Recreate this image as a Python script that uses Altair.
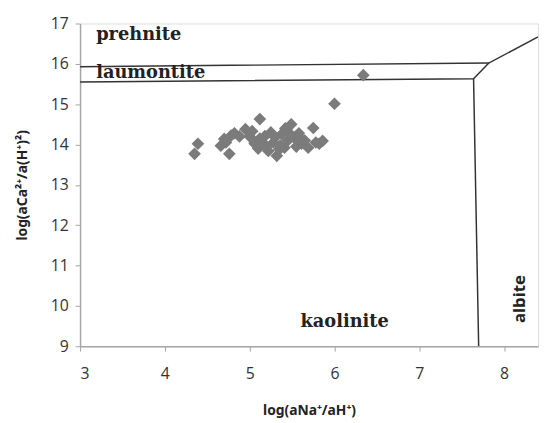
import altair as alt
import pandas as pd

# Sample points (log aNa+/aH+, log aCa2+/a(H+)^2)
pts_x = [4.39, 4.35, 4.70, 4.66, 4.76, 4.82, 4.95, 5.03, 5.06, 4.88, 5.00,
         5.12, 5.06, 5.22, 5.41, 5.61, 5.69, 5.18, 5.38, 5.53, 5.49, 5.75,
         5.86, 5.32, 5.28, 5.45, 5.35, 5.60, 5.78, 5.15, 5.25, 5.42, 5.55,
         5.10, 4.72, 4.78, 5.20, 5.30, 5.47, 5.65, 5.82, 5.12, 5.36, 5.58,
         6.00, 6.34]
pts_y = [14.02, 13.77, 14.14, 13.97, 13.77, 14.28, 14.38, 14.33, 14.04, 14.20, 14.20,
         14.63, 14.02, 13.84, 13.92, 14.02, 13.92, 14.21, 14.26, 14.16, 14.50, 14.41,
         14.09, 13.72, 14.05, 14.10, 13.88, 14.15, 14.05, 14.05, 14.30, 14.40, 13.95,
         13.90, 14.05, 14.22, 13.95, 14.18, 14.28, 14.10, 14.02, 14.15, 13.98, 14.28,
         15.01, 15.72]

# Phase boundary segments
seg_id = ["upper", "upper", "upper", "lower", "lower", "lower", "vert", "vert"]
seg_x = [3.0, 7.82, 8.40, 3.0, 7.64, 7.82, 7.64, 7.70]
seg_y = [15.93, 16.02, 16.67, 15.55, 15.63, 16.02, 15.63, 9.0]
seg_ord = [0, 1, 2, 0, 1, 2, 0, 1]

# Field labels
serif_text = ["prehnite", "laumontite", "kaolinite"]
serif_x = [3.19, 3.19, 6.12]
serif_y = [16.71, 15.78, 9.61]

albite_text = ["albite"]
albite_x = [8.19]
albite_y = [10.17]

x_ticks = [3, 4, 5, 6, 7, 8]
y_ticks = [9, 10, 11, 12, 13, 14, 15, 16, 17]

pts = pd.DataFrame({"x": pts_x, "y": pts_y})
segs = pd.DataFrame({"seg": seg_id, "x": seg_x, "y": seg_y, "ord": seg_ord})
serif_left = pd.DataFrame({"t": serif_text[:2], "x": serif_x[:2], "y": serif_y[:2]})
serif_center = pd.DataFrame({"t": serif_text[2:], "x": serif_x[2:], "y": serif_y[2:]})
alb = pd.DataFrame({"t": albite_text, "x": albite_x, "y": albite_y})

xs = alt.Scale(domain=[3, 8.4], nice=False, zero=False)
ys = alt.Scale(domain=[9, 17], nice=False, zero=False)

xaxis = alt.Axis(values=x_ticks, format="d", title="log(aNa\u207A/aH\u207A)", grid=False,
                 domainColor="#a6a6a6", domainWidth=1.5, tickColor="#a6a6a6",
                 tickSize=5, tickWidth=1, labelFont="Open Sans", labelFontSize=16,
                 labelColor="#333333", labelPadding=15,
                 titleFont="Noto Sans", titleFontSize=14, titleFontWeight="bold",
                 titleColor="#222222", titleY=65, titleBaseline="middle")
yaxis = alt.Axis(values=y_ticks, format="d", title="log(aCa\u00B2\u207A/a(H\u207A)\u00B2)", grid=False,
                 domainColor="#a6a6a6", domainWidth=1.5, tickColor="#a6a6a6",
                 tickSize=5, tickWidth=1, labelFont="Open Sans", labelFontSize=16,
                 labelColor="#333333", labelPadding=7,
                 titleFont="Noto Sans", titleFontSize=14, titleFontWeight="bold",
                 titleColor="#222222", titleX=-58, titleAngle=270,
                 titleBaseline="middle", titleAlign="center")

lines = alt.Chart(segs).mark_line(color="#333333", strokeWidth=1.5, clip=True).encode(
    x=alt.X("x:Q", scale=xs, axis=xaxis),
    y=alt.Y("y:Q", scale=ys, axis=yaxis),
    detail="seg:N",
    order="ord:Q",
)

points = alt.Chart(pts).mark_point(shape="diamond", filled=True, size=165,
                                   color="#7b7b7b", opacity=1).encode(
    x=alt.X("x:Q", scale=xs),
    y=alt.Y("y:Q", scale=ys),
)

t1 = alt.Chart(serif_left).mark_text(font="DejaVu Serif", fontWeight="bold", fontSize=18,
                                     align="left", baseline="middle", color="#222222").encode(
    x=alt.X("x:Q", scale=xs), y=alt.Y("y:Q", scale=ys), text="t:N")
t2 = alt.Chart(serif_center).mark_text(font="DejaVu Serif", fontWeight="bold", fontSize=18,
                                       align="center", baseline="middle", color="#222222").encode(
    x=alt.X("x:Q", scale=xs), y=alt.Y("y:Q", scale=ys), text="t:N")
t3 = alt.Chart(alb).mark_text(font="Open Sans", fontSize=17, fontWeight="bold", angle=270,
                              align="center", baseline="middle", color="#222222").encode(
    x=alt.X("x:Q", scale=xs), y=alt.Y("y:Q", scale=ys), text="t:N")

chart = alt.layer(lines, points, t1, t2, t3).properties(
    width=464, height=327,
    autosize=alt.AutoSizeParams(type="none"),
    padding={"left": 73, "top": 13, "right": 2, "bottom": 70},
).configure_view(stroke=None).configure(background="white")

chart.save("out.html", embed_options={"renderer": "svg", "actions": False})
